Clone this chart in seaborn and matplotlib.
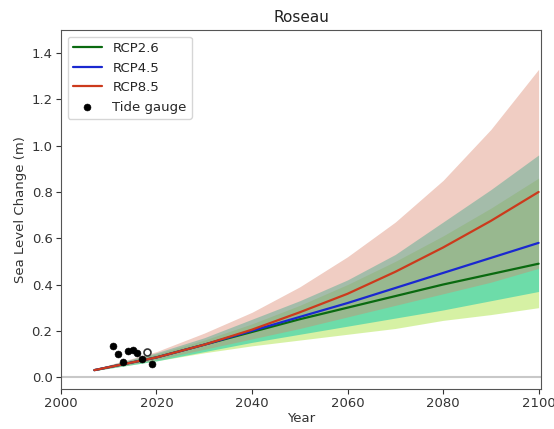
import numpy as np
import pandas as pd
import seaborn as sns
import matplotlib
matplotlib.use("Agg")
import matplotlib.pyplot as plt

# projection years
years = [2007, 2020, 2030, 2040, 2050, 2060, 2070, 2080, 2090, 2100]

# median projections (m)
rcp26 = [0.03, 0.085, 0.14, 0.195, 0.25, 0.30, 0.35, 0.40, 0.445, 0.49]
rcp45 = [0.03, 0.085, 0.14, 0.20, 0.26, 0.32, 0.385, 0.45, 0.515, 0.58]
rcp85 = [0.03, 0.085, 0.14, 0.205, 0.28, 0.36, 0.455, 0.56, 0.675, 0.80]

# likely ranges (m)
rcp26_lo = [0.028, 0.07, 0.105, 0.135, 0.16, 0.185, 0.21, 0.245, 0.27, 0.30]
rcp26_hi = [0.035, 0.10, 0.16, 0.23, 0.31, 0.40, 0.50, 0.61, 0.73, 0.86]
rcp45_lo = [0.028, 0.07, 0.11, 0.15, 0.185, 0.22, 0.255, 0.29, 0.33, 0.37]
rcp45_hi = [0.035, 0.105, 0.17, 0.25, 0.33, 0.42, 0.53, 0.67, 0.81, 0.96]
rcp85_lo = [0.028, 0.075, 0.12, 0.165, 0.21, 0.26, 0.31, 0.36, 0.41, 0.47]
rcp85_hi = [0.035, 0.11, 0.19, 0.28, 0.39, 0.52, 0.67, 0.85, 1.07, 1.33]

# tide gauge observations
tg_years = [2011, 2012, 2013, 2014, 2015, 2016, 2017, 2018, 2019]
tg_vals = [0.134, 0.099, 0.065, 0.112, 0.117, 0.104, 0.078, 0.108, 0.056]
tg_open = [False, False, False, False, False, False, False, True, False]

sns.set_style("ticks")
plt.rcParams["font.family"] = ["DejaVu Sans"]

fig = plt.figure(figsize=(5.54, 4.29), dpi=100)
ax = fig.add_axes([0.110, 0.093, 0.8665, 0.837])

ax.axhline(0, color="#c8c8c8", lw=1.5, zorder=0)

ax.fill_between(years, rcp26_lo, rcp26_hi, color="#a6e237", alpha=0.45, lw=0)
ax.fill_between(years, rcp45_lo, rcp45_hi, color="#05c8af", alpha=0.5, lw=0)
ax.fill_between(years, rcp85_lo, rcp85_hi, color="#da8269", alpha=0.4, lw=0)

df = pd.DataFrame({
    "Year": years * 3,
    "val": rcp26 + rcp45 + rcp85,
    "scen": ["RCP2.6"] * len(years) + ["RCP4.5"] * len(years) + ["RCP8.5"] * len(years),
})
sns.lineplot(data=df, x="Year", y="val", hue="scen",
             palette={"RCP2.6": "#0a6a10", "RCP4.5": "#1a28d0", "RCP8.5": "#cc3a1c"},
             lw=1.6, ax=ax)

tg = pd.DataFrame({"Year": tg_years, "val": tg_vals, "open": tg_open})
sns.scatterplot(data=tg[~tg["open"]], x="Year", y="val", color="black", s=25,
                edgecolor="black", label="Tide gauge", ax=ax, zorder=5)
sns.scatterplot(data=tg[tg["open"]], x="Year", y="val", color="white", s=25,
                edgecolor="#333333", linewidth=1.2, ax=ax, zorder=5, legend=False)

ax.set_xlim(2000, 2100.5)
ax.set_ylim(-0.052, 1.5)
ax.set_xticks([2000, 2020, 2040, 2060, 2080, 2100])
ax.set_yticks([0.0, 0.2, 0.4, 0.6, 0.8, 1.0, 1.2, 1.4])
ax.yaxis.set_major_formatter(matplotlib.ticker.FormatStrFormatter("%.1f"))
ax.tick_params(labelsize=9.5, colors="#333333", pad=2.5)
ax.set_xlabel("Year", fontsize=9.5, color="#333333", labelpad=1)
ax.set_ylabel("Sea Level Change (m)", fontsize=9.5, color="#333333", labelpad=3)
ax.set_title("Roseau", fontsize=11, color="#222222")
for s in ax.spines.values():
    s.set_color("#555555")

leg = ax.legend(loc="upper left", fontsize=9.5, frameon=True, handlelength=2.2)
leg.get_frame().set_edgecolor("#cccccc")

fig.savefig("out.png", dpi=100)
